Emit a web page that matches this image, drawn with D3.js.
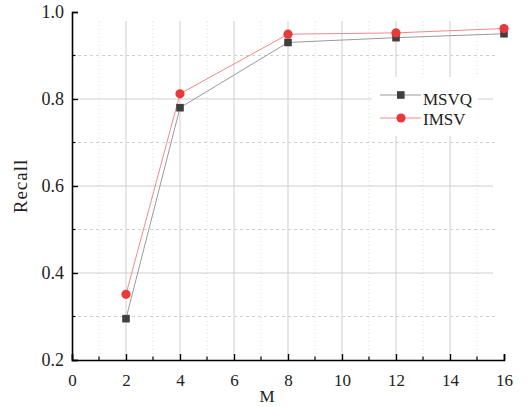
<!DOCTYPE html>
<html>
<head>
<meta charset="utf-8">
<script src="https://cdn.jsdelivr.net/npm/d3@7"></script>
<style>
  body { margin: 0; background: #fff; }
  text { font-family: "Liberation Serif", "DejaVu Serif", serif; fill: #222; }
</style>
</head>
<body>
<div id="chart"></div>
<script>
let mValues = [2, 4, 8, 12, 16];
let msvq = [0.295, 0.78, 0.930, 0.941, 0.950];
let imsv = [0.351, 0.812, 0.949, 0.952, 0.962];
let xTicks = [0, 2, 4, 6, 8, 10, 12, 14, 16];
let yTicks = [0.2, 0.4, 0.6, 0.8, 1.0];

let width = 530, height = 407;
let plotLeft = 72, plotRight = 504, plotTop = 12, plotBottom = 360;

const svg = d3.select("#chart").append("svg")
    .attr("width", width).attr("height", height);

const x = d3.scaleLinear().domain([0, 16]).range([plotLeft, plotRight]);
const y = d3.scaleLinear().domain([0.2, 1.0]).range([plotBottom, plotTop]);

const grid = svg.append("g");
// minor vertical grid (odd values), dotted
d3.range(1, 16, 2).forEach(v => {
    grid.append("line")
        .attr("x1", x(v)).attr("x2", x(v)).attr("y1", 21).attr("y2", plotBottom)
        .attr("stroke", "#d8d8d8").attr("stroke-dasharray", "1,3");
});
// major vertical grid
d3.range(2, 16, 2).forEach(v => {
    grid.append("line")
        .attr("x1", x(v)).attr("x2", x(v)).attr("y1", 21).attr("y2", plotBottom)
        .attr("stroke", "#cfcfcf");
});
// horizontal dashed minor
[0.3, 0.5, 0.7, 0.9].forEach(v => {
    grid.append("line")
        .attr("x1", plotLeft).attr("x2", 497).attr("y1", y(v)).attr("y2", y(v))
        .attr("stroke", "#d0d0d0").attr("stroke-dasharray", "3,3");
});
// horizontal major
[0.4, 0.6, 0.8].forEach(v => {
    grid.append("line")
        .attr("x1", plotLeft).attr("x2", 493).attr("y1", y(v)).attr("y2", y(v))
        .attr("stroke", "#cfcfcf");
});

// legend background hides grid
svg.append("rect")
    .attr("x", 372).attr("y", 77).attr("width", 106).attr("height", 59)
    .attr("fill", "#fff");

// axes
const xAxis = d3.axisBottom(x).tickValues(xTicks).tickSize(-6).tickPadding(14).tickFormat(d3.format("d"));
const gx = svg.append("g").attr("transform", `translate(0,${plotBottom})`).call(xAxis);
gx.select(".domain").attr("stroke", "#000").attr("stroke-width", 1.6);
gx.selectAll(".tick line").attr("stroke", "#000").attr("stroke-width", 1.4);
gx.selectAll(".tick text").attr("font-size", 17).attr("font-family", "Liberation Serif").attr("fill", "#222");
d3.range(1, 16, 2).forEach(v => {
    gx.append("line").attr("x1", x(v)).attr("x2", x(v)).attr("y1", 0).attr("y2", -3.5)
        .attr("stroke", "#000").attr("stroke-width", 1.2);
});

const yAxis = d3.axisLeft(y).tickValues(yTicks).tickSize(-6).tickPadding(8).tickFormat(d3.format(".1f"));
const gy = svg.append("g").attr("transform", `translate(${plotLeft},0)`).call(yAxis);
gy.select(".domain").attr("stroke", "#000").attr("stroke-width", 1.6);
gy.selectAll(".tick line").attr("stroke", "#000").attr("stroke-width", 1.4);
gy.selectAll(".tick text").attr("font-size", 18).attr("font-family", "Liberation Serif").attr("fill", "#222");
[0.3, 0.5, 0.7, 0.9].forEach(v => {
    gy.append("line").attr("x1", 0).attr("x2", 3.5).attr("y1", y(v)).attr("y2", y(v))
        .attr("stroke", "#000").attr("stroke-width", 1.2);
});

// axis titles
svg.append("text")
    .attr("transform", `translate(27,186) rotate(-90)`)
    .attr("text-anchor", "middle").attr("font-size", 19)
    .attr("letter-spacing", 1).text("Recall");
svg.append("text")
    .attr("x", 267).attr("y", 402).attr("text-anchor", "middle")
    .attr("font-size", 17).text("M");

// series
const line = d3.line().x(d => x(d[0])).y(d => y(d[1]));
let seriesA = mValues.map((m, i) => [m, msvq[i]]);
let seriesB = mValues.map((m, i) => [m, imsv[i]]);

svg.append("path").datum(seriesA).attr("d", line)
    .attr("fill", "none").attr("stroke", "#9a9a9a").attr("stroke-width", 1);
svg.append("path").datum(seriesB).attr("d", line)
    .attr("fill", "none").attr("stroke", "#f28a8a").attr("stroke-width", 1);

svg.selectAll(".sq").data(seriesA).enter().append("rect")
    .attr("x", d => x(d[0]) - 3.8).attr("y", d => y(d[1]) - 3.8)
    .attr("width", 7.6).attr("height", 7.6).attr("fill", "#3f3f3f");
svg.selectAll(".ci").data(seriesB).enter().append("circle")
    .attr("cx", d => x(d[0])).attr("cy", d => y(d[1])).attr("r", 4.6)
    .attr("fill", "#e8393c");

// legend
const leg = svg.append("g");
leg.append("line").attr("x1", 380).attr("x2", 421).attr("y1", 95).attr("y2", 95)
    .attr("stroke", "#9a9a9a");
leg.append("rect").attr("x", 397).attr("y", 91.2).attr("width", 7.6).attr("height", 7.6)
    .attr("fill", "#3f3f3f");
leg.append("text").attr("x", 423).attr("y", 104.5).attr("font-size", 17).text("MSVQ");
leg.append("line").attr("x1", 380).attr("x2", 421).attr("y1", 118).attr("y2", 118)
    .attr("stroke", "#f28a8a");
leg.append("circle").attr("cx", 401).attr("cy", 118).attr("r", 4.6).attr("fill", "#e8393c");
leg.append("text").attr("x", 423).attr("y", 124.5).attr("font-size", 17).text("IMSV");
</script>
</body>
</html>
